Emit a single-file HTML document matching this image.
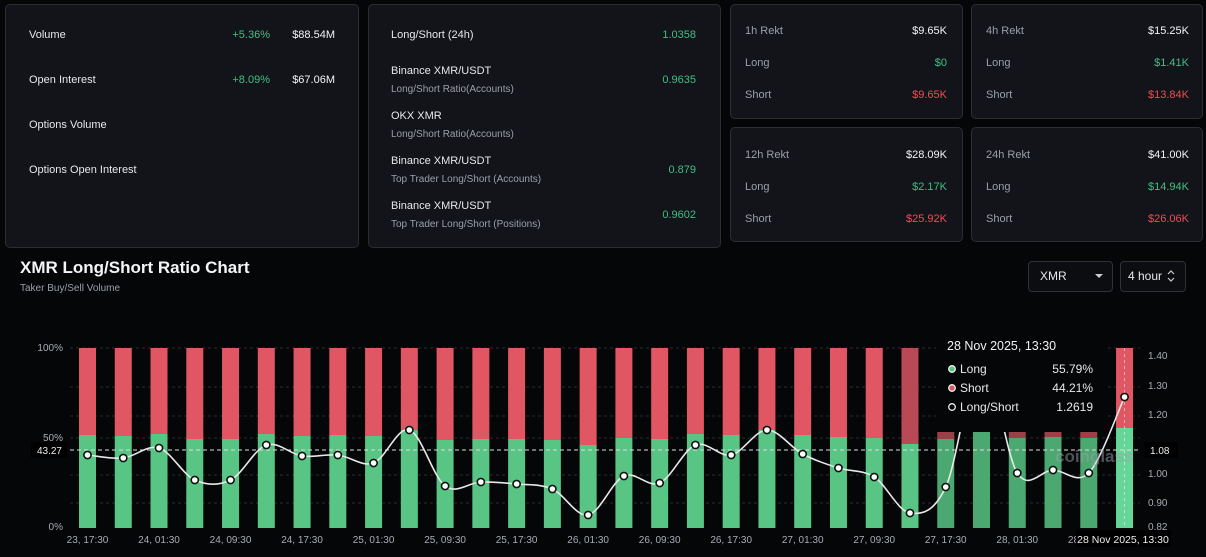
<!DOCTYPE html>
<html><head><meta charset="utf-8"><style>
*{margin:0;padding:0;box-sizing:border-box}
body{width:1206px;height:557px;background:#050608;font-family:"Liberation Sans",sans-serif;color:#e6e8eb;position:relative;overflow:hidden;font-size:11px}
.card{position:absolute;background:#121419;border:1px solid #2a2d33;border-radius:5px}
.t{position:absolute;white-space:nowrap}
.r{position:absolute;white-space:nowrap;transform:translateX(-100%)}
.g{color:#3fbf85}.rd{color:#ef4d55}.s{color:#9aa0a8;font-size:10px}
.b{color:#f2f3f5}
</style></head><body>
<div class="card" style="left:5px;top:4px;width:354px;height:244px"></div>
<div class="card" style="left:368px;top:4px;width:353px;height:244px"></div>
<div class="card" style="left:730px;top:4px;width:233px;height:115px"></div>
<div class="card" style="left:971px;top:4px;width:232px;height:115px"></div>
<div class="card" style="left:730px;top:127px;width:233px;height:115px"></div>
<div class="card" style="left:971px;top:127px;width:232px;height:115px"></div>

<div class="t" style="left:29px;top:29px">Volume</div><div class="r g" style="left:270px;top:29px">+5.36%</div><div class="r b" style="left:335px;top:29px">$88.54M</div>
<div class="t" style="left:29px;top:74px">Open Interest</div><div class="r g" style="left:270px;top:74px">+8.09%</div><div class="r b" style="left:335px;top:74px">$67.06M</div>
<div class="t" style="left:29px;top:119px">Options Volume</div>
<div class="t" style="left:29px;top:164px">Options Open Interest</div>

<div class="t" style="left:391px;top:29px">Long/Short (24h)</div><div class="r g" style="left:696px;top:29px">1.0358</div>
<div class="t" style="left:391px;top:65px">Binance XMR/USDT</div><div class="t s" style="left:391px;top:84px">Long/Short Ratio(Accounts)</div><div class="r g" style="left:696px;top:74px">0.9635</div>
<div class="t" style="left:391px;top:110px">OKX XMR</div><div class="t s" style="left:391px;top:129px">Long/Short Ratio(Accounts)</div>
<div class="t" style="left:391px;top:155px">Binance XMR/USDT</div><div class="t s" style="left:391px;top:174px">Top Trader Long/Short (Accounts)</div><div class="r g" style="left:696px;top:164px">0.879</div>
<div class="t" style="left:391px;top:200px">Binance XMR/USDT</div><div class="t s" style="left:391px;top:219px">Top Trader Long/Short (Positions)</div><div class="r g" style="left:696px;top:209px">0.9602</div>

<div class="t s" style="left:745px;top:25px;font-size:11px">1h Rekt</div><div class="r b" style="left:947px;top:25px">$9.65K</div>
<div class="t s" style="left:745px;top:57px;font-size:11px">Long</div><div class="r g" style="left:947px;top:57px">$0</div>
<div class="t s" style="left:745px;top:89px;font-size:11px">Short</div><div class="r rd" style="left:947px;top:89px">$9.65K</div>
<div class="t s" style="left:986px;top:25px;font-size:11px">4h Rekt</div><div class="r b" style="left:1189px;top:25px">$15.25K</div>
<div class="t s" style="left:986px;top:57px;font-size:11px">Long</div><div class="r g" style="left:1189px;top:57px">$1.41K</div>
<div class="t s" style="left:986px;top:89px;font-size:11px">Short</div><div class="r rd" style="left:1189px;top:89px">$13.84K</div>
<div class="t s" style="left:745px;top:149px;font-size:11px">12h Rekt</div><div class="r b" style="left:947px;top:149px">$28.09K</div>
<div class="t s" style="left:745px;top:181px;font-size:11px">Long</div><div class="r g" style="left:947px;top:181px">$2.17K</div>
<div class="t s" style="left:745px;top:213px;font-size:11px">Short</div><div class="r rd" style="left:947px;top:213px">$25.92K</div>
<div class="t s" style="left:986px;top:149px;font-size:11px">24h Rekt</div><div class="r b" style="left:1189px;top:149px">$41.00K</div>
<div class="t s" style="left:986px;top:181px;font-size:11px">Long</div><div class="r g" style="left:1189px;top:181px">$14.94K</div>
<div class="t s" style="left:986px;top:213px;font-size:11px">Short</div><div class="r rd" style="left:1189px;top:213px">$26.06K</div>

<div class="t" style="left:20px;top:258px;font-size:17px;font-weight:bold;color:#f4f5f7">XMR Long/Short Ratio Chart</div>
<div class="t" style="left:20px;top:283px;font-size:10px;color:#9aa0a8">Taker Buy/Sell Volume</div>
<div style="position:absolute;left:1028px;top:261px;width:85px;height:31px;border:1px solid #2e3138;border-radius:4px;background:#0c0d10"></div>
<div class="t" style="left:1040px;top:269px;font-size:12px">XMR</div>
<div style="position:absolute;left:1095px;top:274px;width:0;height:0;border-left:4px solid transparent;border-right:4px solid transparent;border-top:4px solid #ccc"></div>
<div style="position:absolute;left:1120px;top:261px;width:66px;height:31px;border:1px solid #2e3138;border-radius:4px;background:#0c0d10"></div>
<div class="t" style="left:1128px;top:269px;font-size:12px">4 hour</div>
<svg width="10" height="14" style="position:absolute;left:1166px;top:269px"><path d="M2,5 L5,2 L8,5 M2,9 L5,12 L8,9" fill="none" stroke="#ccc" stroke-width="1.2"/></svg>

<svg id="c" width="1206" height="557" style="position:absolute;left:0;top:0"></svg>
<script>
var s='';
var ns=document.getElementById('c');
var grid=[348,387,416,438,475,503];
grid.forEach(function(y){s+='<line x1="70" x2="1140" y1="'+y+'" y2="'+y+'" stroke="#2a2c31" stroke-dasharray="3,3"/>';});
var tops=[435,436,434,439,439,434,436,435,436,430,440,439,439,440,445,438,439,434,435,430,435,437,438,444,439,432,438,437,438,428];
var dots=[455,458,448,480,480,445,456,455,463,430,486,482,484,489,515,476,483,445,455,430,454,468,477,513,487,360,473,470,473,397];
var xs=[];
for(var i=0;i<30;i++){var x=87.5+i*35.76;xs.push(x);
 var red=i==23?'#b94a55':'#e05662', grn=i==29?'#66d698':'#58c585';
 if(i>=24&&i<=28){red='#9c3f48';grn='#4aa870';}
 s+='<rect x="'+(x-8.5)+'" y="348" width="17" height="'+(tops[i]-348)+'" fill="'+red+'"/>';
 s+='<rect x="'+(x-8.5)+'" y="'+tops[i]+'" width="17" height="'+(528-tops[i])+'" fill="'+grn+'"/>';
}
s+='<line x1="1124.5" x2="1124.5" y1="348" y2="528" stroke="#eee" stroke-opacity="0.6" stroke-dasharray="3,3"/>';
s+='<line x1="70" x2="1140" y1="450" y2="450" stroke="#ddd" stroke-dasharray="4,3"/>';
var d='M'+xs[0]+','+dots[0];
for(var i=0;i<29;i++){var p0=i>0?i-1:i,p3=i<28?i+2:i+1;
 var c1x=xs[i]+(xs[i+1]-xs[p0])/6,c1y=dots[i]+(dots[i+1]-dots[p0])/6;
 var c2x=xs[i+1]-(xs[p3]-xs[i])/6,c2y=dots[i+1]-(dots[p3]-dots[i])/6;
 d+=' C'+c1x+','+c1y+' '+c2x+','+c2y+' '+xs[i+1]+','+dots[i+1];}
s+='<path d="'+d+'" fill="none" stroke="#e8e8e8" stroke-width="1.6"/>';
for(var i=0;i<30;i++){if(i==25)continue;s+='<circle cx="'+xs[i]+'" cy="'+dots[i]+'" r="3.6" fill="#fff" stroke="#111" stroke-width="1.6"/>';}
s+='<text x="1055" y="462" font-size="17" font-weight="bold" fill="#9aa0a6" fill-opacity="0.5" font-family="Liberation Sans">coinglass</text>';
s+='<rect x="936" y="326" width="170" height="106" fill="#050608"/>';
s+='<text x="947" y="350" font-size="12.5" fill="#f2f2f2" font-family="Liberation Sans">28 Nov 2025, 13:30</text>';
var rows=[['Long','55.79%','#58c585'],['Short','44.21%','#e05662'],['Long/Short','1.2619','none']];
rows.forEach(function(r,k){var y=373+k*19;
 s+='<circle cx="952" cy="'+(y-4)+'" r="3.3" fill="'+r[2]+'" stroke="#eee" stroke-width="1.3"/>';
 s+='<text x="960" y="'+y+'" font-size="12" fill="#e8e8e8" font-family="Liberation Sans">'+r[0]+'</text>';
 s+='<text x="1093" y="'+y+'" font-size="12" fill="#e8e8e8" text-anchor="end" font-family="Liberation Sans">'+r[1]+'</text>';});
[['100%',351],['50%',441],['0%',530]].forEach(function(a){s+='<text x="63" y="'+a[1]+'" font-size="10" fill="#a8adb4" text-anchor="end" font-family="Liberation Sans">'+a[0]+'</text>';});
s+='<rect x="31" y="442" width="36" height="16" fill="#000"/><text x="62" y="454" font-size="10" fill="#eee" text-anchor="end" font-family="Liberation Sans">43.27</text>';
[['1.40',359],['1.30',389],['1.20',418],['1.00',477],['0.90',506],['0.82',530]].forEach(function(a){s+='<text x="1148" y="'+a[1]+'" font-size="10" fill="#a8adb4" font-family="Liberation Sans">'+a[0]+'</text>';});
s+='<rect x="1144" y="442" width="34" height="16" fill="#000"/><text x="1150" y="454" font-size="10" fill="#eee" font-family="Liberation Sans">1.08</text>';
var labs=['23, 17:30','24, 01:30','24, 09:30','24, 17:30','25, 01:30','25, 09:30','25, 17:30','26, 01:30','26, 09:30','26, 17:30','27, 01:30','27, 09:30','27, 17:30','28, 01:30','28, 09:30'];
labs.forEach(function(l,k){s+='<text x="'+xs[k*2]+'" y="543" font-size="10" fill="#a8adb4" text-anchor="middle" font-family="Liberation Sans">'+l+'</text>';});
s+='<rect x="1076" y="530" width="95" height="17" fill="#000"/><text x="1123" y="543" font-size="10.5" fill="#eee" text-anchor="middle" font-family="Liberation Sans">28 Nov 2025, 13:30</text>';
ns.innerHTML=s;
</script>
</body></html>
